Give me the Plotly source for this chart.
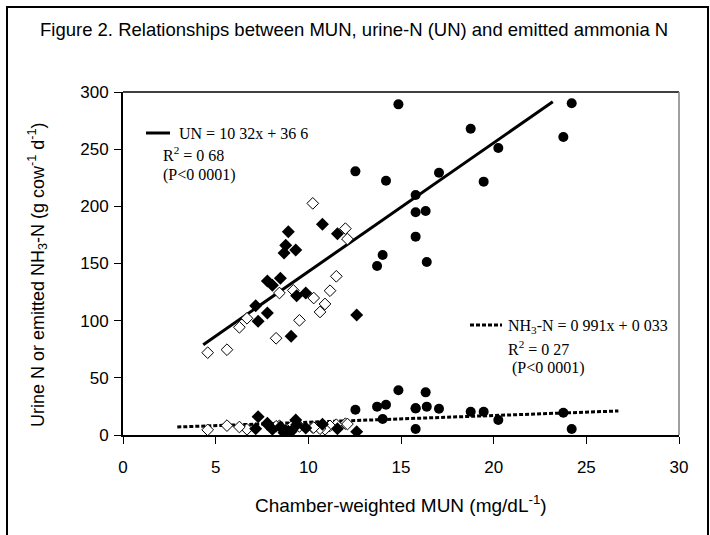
import plotly.graph_objects as go

# ---- data ----
# filled circles
circ_mun = [14.86, 24.21, 18.76, 23.76, 20.25, 12.54, 14.19, 17.05, 19.46, 15.79, 15.79, 16.33, 15.79, 14.01, 13.71, 16.39]
circ_un = [289.2, 290.1, 267.9, 260.6, 251.0, 230.6, 222.4, 229.4, 221.6, 209.9, 194.8, 195.9, 173.5, 157.4, 147.8, 151.3]
circ_nh3 = [39.1, 5.2, 20.4, 19.5, 13.1, 22.1, 26.5, 23.0, 20.4, 23.3, 5.2, 37.3, 23.3, 14.0, 24.8, 24.8]

# filled diamonds
fd_mun = [8.92, 10.76, 11.57, 8.78, 8.69, 9.32, 7.79, 8.06, 8.49, 7.16, 9.37, 9.86, 7.79, 7.29, 9.07, 12.61]
fd_un = [177.8, 184.3, 176.1, 165.9, 159.2, 161.8, 134.7, 130.9, 137.1, 113.1, 121.8, 124.2, 106.7, 99.4, 86.3, 104.9]
fd_nh3 = [3.0, 9.3, 5.5, 4.0, 2.0, 13.1, 10.2, 5.0, 7.0, 5.5, 9.0, 6.1, 9.3, 16.0, 3.0, 2.9]

# open diamonds
od_mun = [10.24, 12.00, 12.11, 11.51, 11.17, 10.90, 10.63, 10.29, 9.19, 8.44, 9.52, 8.26, 6.69, 6.28, 5.61, 4.57]
od_un = [202.6, 180.5, 171.4, 138.8, 126.2, 114.6, 107.6, 119.8, 126.5, 124.2, 100.3, 84.6, 102.1, 94.2, 74.6, 72.0]
od_nh3 = [6.5, 9.9, 9.6, 9.0, 8.0, 5.0, 5.5, 6.5, 9.0, 8.0, 7.5, 7.6, 5.0, 7.0, 8.2, 4.5]

# fitted lines (end points as drawn)
un_fit_x = [4.33, 23.19]
un_fit_y = [79.0, 291.5]
nh3_fit_x = [2.93, 26.73]
nh3_fit_y = [7.0, 21.0]

x_ticks = [0, 5, 10, 15, 20, 25, 30]
y_ticks = [0, 50, 100, 150, 200, 250, 300]

title_text = "Figure 2. Relationships between MUN, urine-N (UN) and emitted ammonia N"
x_title = "Chamber-weighted MUN (mg/dL<sup>-1</sup>)"
y_title = "Urine N or emitted NH<sub>3</sub>-N (g cow<sup>-1</sup> d<sup>-1</sup>)"

W, H = 710, 535
L, R, T, B = 123, 679, 92, 435


def px(x):
    return (x - L) / (R - L)


def py(y):
    return (B - y) / (B - T)


SANS = "Liberation Sans, Arial, sans-serif"
SERIF = "Liberation Serif, Times New Roman, serif"

fig = go.Figure()

fig.add_trace(go.Scatter(x=un_fit_x, y=un_fit_y, mode="lines",
                         line=dict(color="black", width=3), hoverinfo="skip"))
fig.add_trace(go.Scatter(x=nh3_fit_x, y=nh3_fit_y, mode="lines",
                         line=dict(color="black", width=3, dash="4px,2px"), hoverinfo="skip"))

for xs, ys in [(od_mun, od_un), (od_mun, od_nh3)]:
    fig.add_trace(go.Scatter(x=xs, y=ys, mode="markers",
                             marker=dict(symbol="diamond", size=9, color="white",
                                         line=dict(color="black", width=1))))
for xs, ys in [(fd_mun, fd_un), (fd_mun, fd_nh3)]:
    fig.add_trace(go.Scatter(x=xs, y=ys, mode="markers",
                             marker=dict(symbol="diamond", size=10, color="black",
                                         line=dict(width=0))))
for xs, ys in [(circ_mun, circ_un), (circ_mun, circ_nh3)]:
    fig.add_trace(go.Scatter(x=xs, y=ys, mode="markers",
                             marker=dict(symbol="circle", size=10, color="black",
                                         line=dict(width=0))))

shapes = [
    # outer figure frame (bottom edge falls outside the picture)
    dict(type="rect", xref="paper", yref="paper", x0=px(7), x1=px(708), y0=py(560), y1=py(7),
         line=dict(color="black", width=2), fillcolor="rgba(0,0,0,0)", layer="above"),
    # plot frame top and right
    dict(type="line", xref="paper", yref="paper", x0=0, x1=1, y0=1, y1=1,
         line=dict(color="black", width=1.5)),
    dict(type="line", xref="paper", yref="paper", x0=1, x1=1, y0=0, y1=1,
         line=dict(color="#808080", width=1.5)),
    # legend samples
    dict(type="line", xref="paper", yref="paper", x0=px(146), x1=px(170), y0=py(133), y1=py(133),
         line=dict(color="black", width=3)),
    dict(type="line", xref="paper", yref="paper", x0=px(470), x1=px(502), y0=py(325), y1=py(325),
         line=dict(color="black", width=3, dash="4px,2px")),
]

annotations = [
    dict(text=title_text, xref="paper", yref="paper", x=px(354), y=py(30),
         xanchor="center", yanchor="middle", showarrow=False,
         font=dict(family=SANS, size=18.5, color="black")),
    dict(text="UN = 10 32x + 36 6", xref="paper", yref="paper", x=px(177), y=py(133),
         xanchor="left", yanchor="middle", showarrow=False,
         font=dict(family=SERIF, size=16, color="black")),
    dict(text="R<sup>2</sup> = 0 68", xref="paper", yref="paper", x=px(161), y=py(154),
         xanchor="left", yanchor="middle", showarrow=False,
         font=dict(family=SERIF, size=16, color="black")),
    dict(text="(P<0 0001)", xref="paper", yref="paper", x=px(161), y=py(175),
         xanchor="left", yanchor="middle", showarrow=False,
         font=dict(family=SERIF, size=16, color="black")),
    dict(text="NH<sub>3</sub>-N = 0 991x + 0 033", xref="paper", yref="paper", x=px(506), y=py(326),
         xanchor="left", yanchor="middle", showarrow=False,
         font=dict(family=SERIF, size=16, color="black")),
    dict(text="R<sup>2</sup> = 0 27", xref="paper", yref="paper", x=px(506), y=py(348),
         xanchor="left", yanchor="middle", showarrow=False,
         font=dict(family=SERIF, size=16, color="black")),
    dict(text="(P<0 0001)", xref="paper", yref="paper", x=px(510), y=py(368),
         xanchor="left", yanchor="middle", showarrow=False,
         font=dict(family=SERIF, size=16, color="black")),
    dict(text=x_title, xref="paper", yref="paper", x=px(401), y=py(504),
         xanchor="center", yanchor="middle", showarrow=False,
         font=dict(family=SANS, size=19, color="black")),
    dict(text=y_title, xref="paper", yref="paper", x=px(37), y=py(275),
         xanchor="center", yanchor="middle", showarrow=False, textangle=-90,
         font=dict(family=SANS, size=18, color="black")),
]

fig.update_layout(
    width=W, height=H,
    margin=dict(l=L, r=W - R, t=T, b=H - B, pad=0),
    paper_bgcolor="white", plot_bgcolor="white",
    showlegend=False,
    shapes=shapes, annotations=annotations,
    xaxis=dict(range=[0, 30], tickvals=x_ticks, ticktext=[str(v) for v in x_ticks],
               showgrid=False, zeroline=False, showline=True, linecolor="black", linewidth=2,
               ticks="outside", ticklen=7, tickwidth=1, tickcolor="black",
               ticklabelstandoff=9,
               tickfont=dict(family=SANS, size=17, color="black")),
    yaxis=dict(range=[0, 300], tickvals=y_ticks, ticktext=[str(v) for v in y_ticks],
               showgrid=False, zeroline=False, showline=True, linecolor="black", linewidth=2,
               ticks="outside", ticklen=7, tickwidth=1, tickcolor="black",
               ticklabelstandoff=2,
               tickfont=dict(family=SANS, size=17, color="black")),
)

fig.write_html("out.html", config={"displayModeBar": False},
               post_script="document.body.style.margin='0';")
